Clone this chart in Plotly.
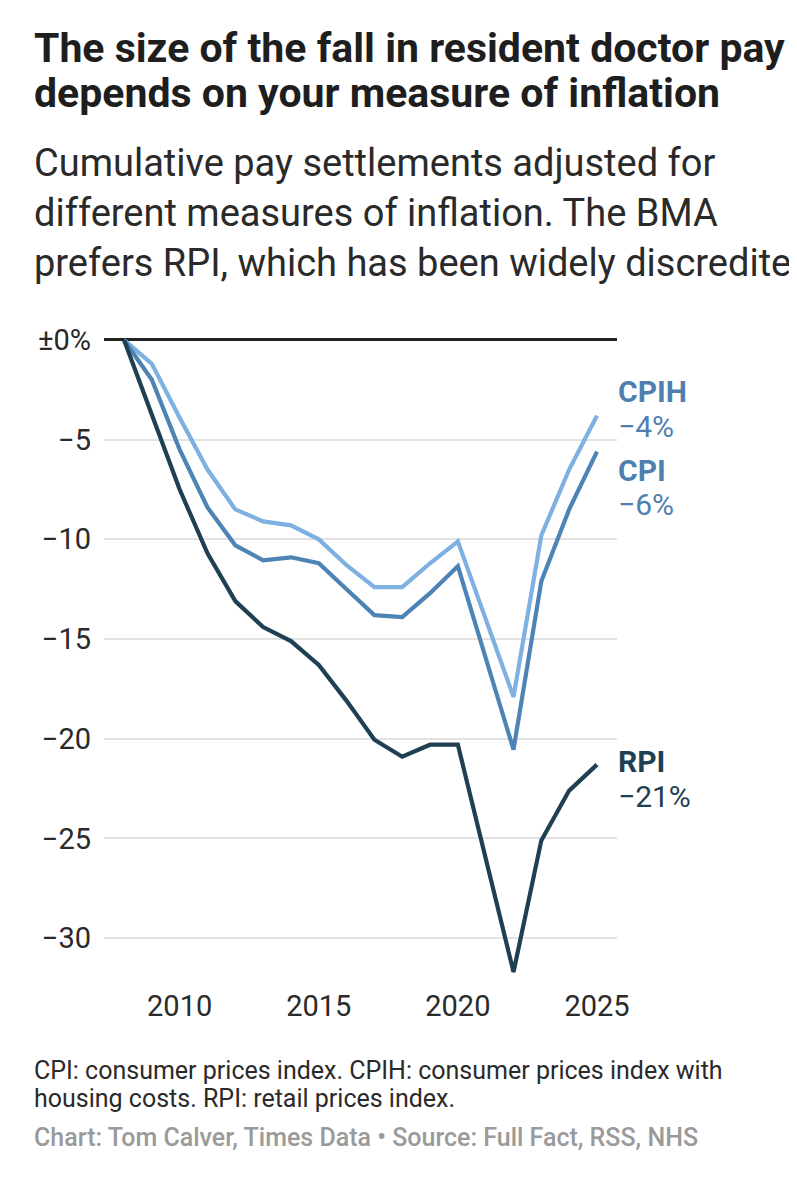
import plotly.graph_objects as go

# Datos (variacion acumulada, %)
years = [2008, 2009, 2010, 2011, 2012, 2013, 2014, 2015, 2016, 2017, 2018, 2019, 2020, 2022, 2023, 2024, 2025]
cpih = [0, -1.2, -3.9, -6.5, -8.5, -9.1, -9.3, -10.0, -11.3, -12.4, -12.4, -11.2, -10.1, -17.9, -9.8, -6.5, -3.8]
cpi = [0, -2.0, -5.5, -8.4, -10.3, -11.05, -10.9, -11.2, -12.5, -13.8, -13.9, -12.7, -11.35, -20.55, -12.1, -8.5, -5.6]
rpi = [0, -3.8, -7.5, -10.7, -13.1, -14.4, -15.1, -16.3, -18.1, -20.05, -20.9, -20.3, -20.3, -31.7, -25.1, -22.6, -21.3]

series_names = ["CPIH", "CPI", "RPI"]
series_values = [cpih, cpi, rpi]
line_colors = ["#7eb0e2", "#4e83b6", "#1f3f52"]
label_colors = ["#4f7fae", "#4f7fae", "#1f3f52"]
# desplazamiento vertical (px) de nombre y valor respecto al ultimo punto
label_shifts = [(24, -11), (-19, -53), (3, -32)]

y_ticks = [0, -5, -10, -15, -20, -25, -30]
y_ticktext = ["±0%", "−5", "−10", "−15", "−20", "−25", "−30"]
x_ticks = [2010, 2015, 2020, 2025]

title_lines = ["The size of the fall in resident doctor pay",
               "depends on your measure of inflation"]
subtitle_lines = ["Cumulative pay settlements adjusted for",
                  "different measures of inflation. The BMA",
                  "prefers RPI, which has been widely discredited"]
note_lines = ["CPI: consumer prices index. CPIH: consumer prices index with",
              "housing costs. RPI: retail prices index."]
source = "Chart: Tom Calver, Times Data • Source: Full Fact, RSS, NHS"

W, H = 797, 1200
OFF = 8                               # margen del body de la pagina
PL, PR, PT, PB = 104, 617, 320, 986   # area del grafico en px de la ventana
FONT = "Roboto, 'Noto Sans', sans-serif"


def px_x(x):
    return (x - PL) / (PR - PL)


def px_y(y):
    return (PB - y) / (PB - PT)


fig = go.Figure()
for name, vals, col in zip(series_names, series_values, line_colors):
    fig.add_trace(go.Scatter(x=years, y=vals, mode="lines", name=name,
                             line=dict(color=col, width=4.2), hoverinfo="skip"))

annotations = []
for name, vals, col, (s1, s2) in zip(series_names, series_values, label_colors, label_shifts):
    last = vals[-1]
    annotations.append(dict(x=years[-1], y=last, xref="x", yref="y", text="<b>" + name + "</b>",
                            xanchor="left", yanchor="middle", xshift=19, yshift=s1, showarrow=False,
                            font=dict(family=FONT, size=30, color=col)))
    annotations.append(dict(x=years[-1], y=last, xref="x", yref="y", text="−%d%%" % abs(round(last)),
                            xanchor="left", yanchor="middle", xshift=19, yshift=s2, showarrow=False,
                            font=dict(family=FONT, size=30, color=col)))

for i, t in enumerate(title_lines):
    annotations.append(dict(x=px_x(32), y=px_y(48 + i * 45), xref="paper", yref="paper", text="<b>" + t + "</b>",
                            xanchor="left", yanchor="middle", showarrow=False,
                            font=dict(family=FONT, size=41, color="#1e1e1e")))
for i, t in enumerate(subtitle_lines):
    annotations.append(dict(x=px_x(32), y=px_y(163 + i * 50), xref="paper", yref="paper", text=t,
                            xanchor="left", yanchor="middle", showarrow=False,
                            font=dict(family=FONT, size=38, color="#2a2a2a")))
for i, t in enumerate(note_lines):
    annotations.append(dict(x=px_x(32), y=px_y(1070 + i * 28), xref="paper", yref="paper", text=t,
                            xanchor="left", yanchor="middle", showarrow=False,
                            font=dict(family=FONT, size=25, color="#2a2a2a")))
annotations.append(dict(x=px_x(32), y=px_y(1137), xref="paper", yref="paper", text=source,
                        xanchor="left", yanchor="middle", showarrow=False,
                        font=dict(family=FONT, size=25, color="#9a9a9a", weight=500)))

fig.update_layout(
    width=W - OFF, height=H - OFF,
    margin=dict(l=PL - OFF, r=W - PR, t=PT - OFF, b=H - PB, pad=0),
    paper_bgcolor="white", plot_bgcolor="white",
    showlegend=False,
    font=dict(family=FONT, size=29, color="#333333"),
    annotations=annotations,
    xaxis=dict(range=[2007.28, 2025.72], tickvals=x_ticks, showgrid=False, zeroline=False,
               showline=False, ticks="", tickfont=dict(size=29, color="#2a2a2a"), fixedrange=True),
    yaxis=dict(range=[-32.4, 1.0], tickvals=y_ticks, ticktext=y_ticktext, showgrid=True,
               gridcolor="#e2e2e2", gridwidth=1.5, zeroline=True, zerolinecolor="#222222",
               zerolinewidth=2.5, showline=False, ticks="", ticklabelstandoff=12,
               tickfont=dict(size=29, color="#2a2a2a"), fixedrange=True),
)

fig.write_html("out.html")
